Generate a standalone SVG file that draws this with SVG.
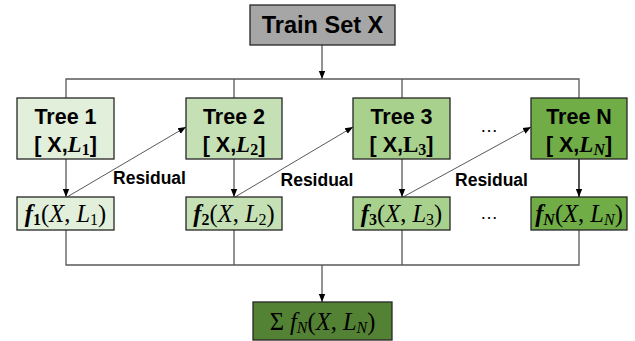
<svg xmlns="http://www.w3.org/2000/svg" width="635" height="341" viewBox="0 0 635 341">
  <style>
    .box { stroke: #262626; stroke-width: 1.3; }
    .wire { fill: none; stroke: #595959; stroke-width: 1.3; }
    .thin { fill: none; stroke: #595959; stroke-width: 1; }
    .dark { fill: none; stroke: #1a1a1a; stroke-width: 1.5; }
    .title { font-family: "Liberation Sans", Arial, sans-serif; font-weight: bold; font-size: 21.5px; fill: #000; text-anchor: middle; }
    .math { font-family: "Liberation Serif", "Times New Roman", serif; font-size: 24.5px; fill: #000; text-anchor: middle; }
    .it { font-style: italic; }
    .bi { font-style: italic; font-weight: bold; }
    .sub { font-size: 16px; }
    .lbl { font-family: "Liberation Sans", Arial, sans-serif; font-weight: bold; font-size: 17.5px; fill: #000; text-anchor: middle; }
    .dots { font-family: "Liberation Sans", Arial, sans-serif; font-size: 18px; fill: #000; text-anchor: middle; }
  </style>
  <defs>
    <marker id="head" markerUnits="userSpaceOnUse" markerWidth="8" markerHeight="8" viewBox="0 0 8 8" refX="8" refY="4" orient="auto">
      <path d="M0,0.8 L8,4 L0,7.2 Z" fill="#000"/>
    </marker>
  </defs>

  <!-- connectors -->
  <g id="connectors">
    <!-- input fan-out -->
    <line class="wire" x1="322" y1="45" x2="322" y2="79" marker-end="url(#head)"/>
    <path class="wire" d="M66,98 V79 H579 V98 M234,79 V98 M402,79 V98"/>
    <!-- tree to model -->
    <line class="wire" x1="66" y1="159" x2="66" y2="197" marker-end="url(#head)"/>
    <line class="wire" x1="234" y1="159" x2="234" y2="197" marker-end="url(#head)"/>
    <line class="wire" x1="402" y1="159" x2="402" y2="197" marker-end="url(#head)"/>
    <line class="dark" x1="579" y1="159" x2="579" y2="197" marker-end="url(#head)"/>
    <!-- residual hand-off -->
    <line class="thin" x1="67" y1="197" x2="186" y2="127" marker-end="url(#head)"/>
    <line class="thin" x1="235" y1="197" x2="353" y2="127" marker-end="url(#head)"/>
    <line class="thin" x1="403" y1="197" x2="531" y2="127" marker-end="url(#head)"/>
    <!-- fan-in to sum -->
    <path class="wire" d="M66,230 V265 H579 V230 M234,230 V265 M402,230 V265"/>
    <line class="wire" x1="322" y1="265" x2="322" y2="302" marker-end="url(#head)"/>
    <!-- labels -->
    <text class="lbl" x="149.5" y="184">Residual</text>
    <text class="lbl" x="317" y="186">Residual</text>
    <text class="lbl" x="491.5" y="186">Residual</text>
    <text class="dots" x="489" y="132">…</text>
    <text class="dots" x="489" y="219">…</text>
  </g>

  <g id="train">
    <rect class="box" x="250" y="5" width="145" height="40" fill="#a6a6a6"/>
    <text class="title" x="322.5" y="33" style="font-size:23.5px">Train Set X</text>
  </g>

  <g id="tree1">
    <rect class="box" x="17" y="98" width="97" height="61" fill="#e2efda"/>
    <text class="title" x="65.5" y="124">Tree 1</text>
    <text class="title" x="65.5" y="152">[ X,<tspan class="math it" style="font-weight:bold;font-size:23px">L</tspan><tspan class="math sub" dy="3">1</tspan><tspan dy="-3">]</tspan></text>
  </g>
  <g id="tree2">
    <rect class="box" x="186" y="98" width="96" height="61" fill="#c5e0b4"/>
    <text class="title" x="234" y="124">Tree 2</text>
    <text class="title" x="234" y="152">[ X,<tspan class="math it" style="font-weight:bold;font-size:23px">L</tspan><tspan class="math sub" dy="3">2</tspan><tspan dy="-3">]</tspan></text>
  </g>
  <g id="tree3">
    <rect class="box" x="353" y="98" width="97" height="61" fill="#a9d18e"/>
    <text class="title" x="401.5" y="124">Tree 3</text>
    <text class="title" x="401.5" y="152">[ X,<tspan class="math" style="font-weight:bold;font-size:23px">L</tspan><tspan class="math sub" dy="3">3</tspan><tspan dy="-3">]</tspan></text>
  </g>
  <g id="treeN">
    <rect class="box" x="531" y="98" width="96" height="61" fill="#70ad47"/>
    <text class="title" x="579" y="124">Tree N</text>
    <text class="title" x="579" y="152">[ X,<tspan class="math it" style="font-weight:bold;font-size:23px">L</tspan><tspan class="math sub it" dy="3">N</tspan><tspan dy="-3">]</tspan></text>
  </g>

  <g id="f1">
    <rect class="box" x="17" y="197" width="97" height="33" fill="#e2efda"/>
    <text class="math" x="65.5" y="222"><tspan class="bi">f</tspan><tspan class="sub" font-weight="bold" dy="3">1</tspan><tspan dy="-3">(</tspan><tspan class="it">X</tspan>, <tspan class="it">L</tspan><tspan class="sub" dy="3">1</tspan><tspan dy="-3">)</tspan></text>
  </g>
  <g id="f2">
    <rect class="box" x="186" y="197" width="96" height="33" fill="#c5e0b4"/>
    <text class="math" x="234" y="222"><tspan class="bi">f</tspan><tspan class="sub" font-weight="bold" dy="3">2</tspan><tspan dy="-3">(</tspan><tspan class="it">X</tspan>, <tspan class="it">L</tspan><tspan class="sub" dy="3">2</tspan><tspan dy="-3">)</tspan></text>
  </g>
  <g id="f3">
    <rect class="box" x="353" y="197" width="97" height="33" fill="#a9d18e"/>
    <text class="math" x="401.5" y="222"><tspan class="bi">f</tspan><tspan class="sub" font-weight="bold" dy="3">3</tspan><tspan dy="-3">(</tspan><tspan class="it">X</tspan>, <tspan class="it">L</tspan><tspan class="sub" dy="3">3</tspan><tspan dy="-3">)</tspan></text>
  </g>
  <g id="fN">
    <rect class="box" x="531" y="197" width="96" height="33" fill="#70ad47"/>
    <text class="math" x="579" y="222"><tspan class="bi">f</tspan><tspan class="sub bi" dy="3">N</tspan><tspan dy="-3">(</tspan><tspan class="it">X</tspan>, <tspan class="it">L</tspan><tspan class="sub it" dy="3">N</tspan><tspan dy="-3">)</tspan></text>
  </g>

  <g id="sum">
    <rect class="box" x="253" y="302" width="139" height="38" fill="#548235"/>
    <text class="math" x="322.5" y="330">Σ <tspan class="it">f</tspan><tspan class="sub it" dy="3">N</tspan><tspan dy="-3">(</tspan><tspan class="it">X</tspan>, <tspan class="it">L</tspan><tspan class="sub it" dy="3">N</tspan><tspan dy="-3">)</tspan></text>
  </g>
</svg>
